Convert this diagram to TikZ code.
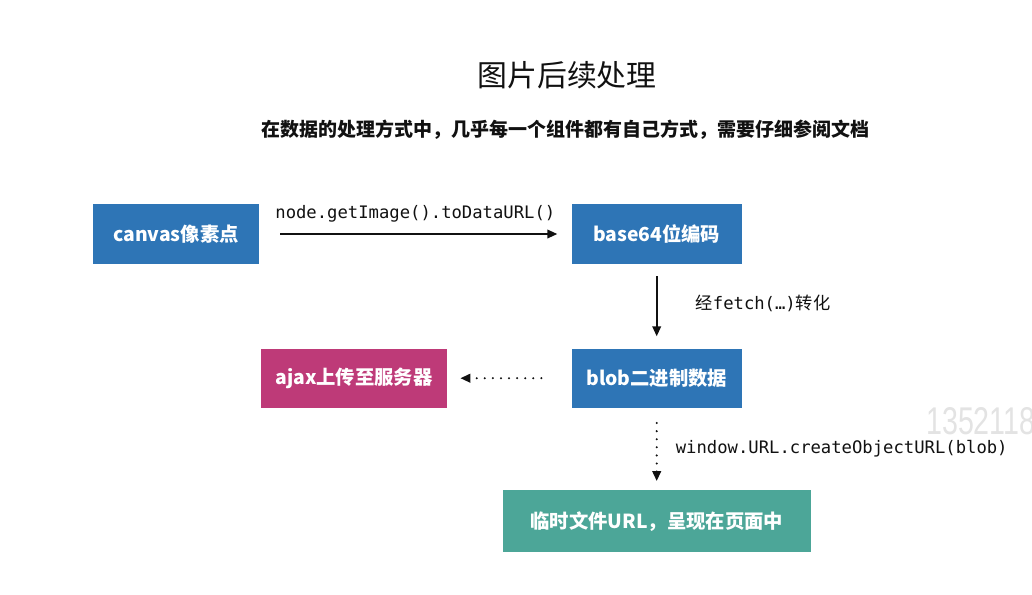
\documentclass[tikz,border=0pt]{standalone}
\usepackage{fontspec}
\setmainfont{Noto Sans CJK SC}
\setmonofont{DejaVu Sans Mono}
\newfontfamily\markfont{Liberation Sans}
\usepackage{tikz}
\usetikzlibrary{arrows.meta,positioning}
\definecolor{boxblue}{HTML}{2E75B6}
\definecolor{boxrose}{HTML}{BE3A78}
\definecolor{boxteal}{HTML}{4CA698}
\definecolor{ink}{HTML}{111111}
\tikzset{
    every picture/.style={line join=round},
    procbox/.style={fill=boxblue,draw=none,text=white,
      minimum width=3.4cm,minimum height=1.2cm,inner sep=2pt,
      font=\fontsize{11}{13}\selectfont\bfseries,align=center},
    flowarrow/.style={-{Triangle[length=2mm,width=1.7mm]},draw=ink,
      line width=1.1pt},
    dotarrow/.style={-{Triangle[length=2mm,width=1.7mm]},draw=ink,
      line width=1.3pt,line cap=round,dash pattern=on 0pt off 4.6pt},
    codelabel/.style={text=ink,inner sep=0pt,
      font=\fontsize{9.8}{12}\selectfont\ttfamily}
}
\begin{document}
\begin{tikzpicture}
    \useasboundingbox[fill=white] (0,0) rectangle (20.64,-11.88);
    % titles
    \node[text=ink,font=\fontsize{17}{20}\selectfont] (title) at (11.34,-1.50) {图片后续处理};
    \node[text=ink,font=\fontsize{10.8}{13}\selectfont\bfseries] (sub) at (11.31,-2.60)
      {在数据的处理方式中，几乎每一个组件都有自己方式，需要仔细参阅文档};
    % boxes
    \node[procbox,minimum width=3.32cm] (canvas) at (3.52,-4.68) {canvas像素点};
    \node[procbox,right=6.24cm of canvas] (base) {base64位编码};
    \node[procbox,below=1.68cm of base,minimum height=1.18cm] (blob) {blob二进制数据};
    \node[procbox,fill=boxrose,minimum width=3.72cm,minimum height=1.18cm,
      left=2.48cm of blob] (ajax) {ajax上传至服务器};
    \node[procbox,fill=boxteal,minimum width=6.16cm,minimum height=1.24cm,
      below=1.64cm of blob] (url) {临时文件URL，呈现在页面中};
    % connectors
    \draw[flowarrow,shorten <=0.42cm,shorten >=0.28cm] (canvas) -- (base)
      node[codelabel,midway,above=0.22cm,xshift=0cm] (lbla) {node.getImage().toDataURL()};
    \draw[flowarrow,shorten <=0.24cm,shorten >=0.24cm] (base) -- (blob)
      node[codelabel,midway,right=0.76cm,anchor=west,yshift=0.05cm] (lblb)
      {\rmfamily 经\ttfamily fetch(…)\rmfamily 转化};
    \draw[dotarrow,shorten <=0.6cm,shorten >=0.26cm] (blob) -- (ajax);
    \draw[dotarrow,shorten <=0.3cm,shorten >=0.18cm] (blob) -- (url)
      node[codelabel,midway,right=0.36cm,anchor=west,yshift=0cm] (lblc)
      {window.URL.createObjectURL(blob)};
    % watermark
    \begin{scope}
      \clip (0,0) rectangle (20.64,-11.88);
      \node[anchor=west,inner sep=0pt,text=gray!22,xscale=0.74,transform shape,
        font=\fontsize{22}{24}\selectfont\markfont] (mark) at (18.52,-8.42) {1352118};
    \end{scope}
\end{tikzpicture}
\end{document}
